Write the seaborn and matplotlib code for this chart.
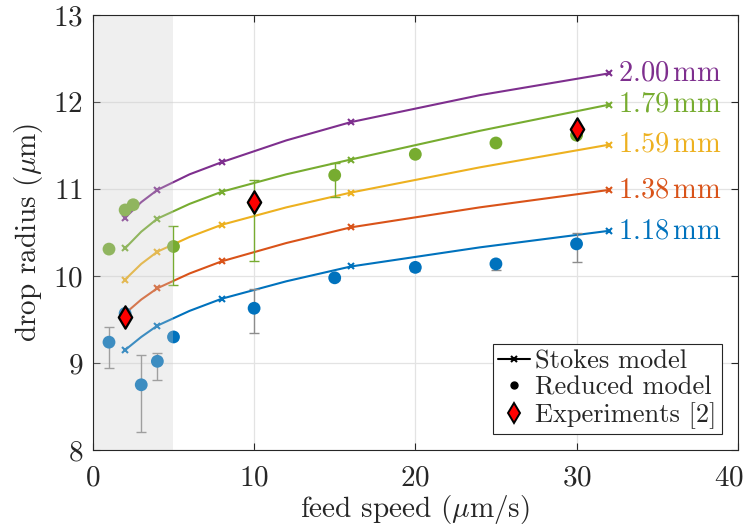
import matplotlib
matplotlib.use('Agg')
import matplotlib.pyplot as plt
import matplotlib.transforms as mtransforms
import numpy as np
import pandas as pd
import seaborn as sb
from matplotlib.lines import Line2D

# Stokes model curves, markers only at 2, 4, 8, 16, 32
stokes_x = [2, 3, 4, 6, 8, 12, 16, 24, 32]
stokes_marks = [0, 2, 4, 6, 8]
stokes_y = {
    '2.00': [10.67, 10.85, 10.99, 11.17, 11.31, 11.56, 11.77, 12.08, 12.33],
    '1.79': [10.32, 10.51, 10.66, 10.83, 10.97, 11.17, 11.34, 11.67, 11.97],
    '1.59': [9.96, 10.14, 10.28, 10.45, 10.59, 10.79, 10.96, 11.25, 11.51],
    '1.38': [9.57, 9.73, 9.86, 10.03, 10.17, 10.38, 10.56, 10.79, 10.99],
    '1.18': [9.15, 9.30, 9.43, 9.60, 9.74, 9.94, 10.11, 10.33, 10.52],
}
colors = {
    '2.00': '#7e2f8e',
    '1.79': '#77ac30',
    '1.59': '#edb120',
    '1.38': '#d95319',
    '1.18': '#0072bd',
}

# reduced model, small nozzle (blue)
red_blue_x = [1, 2, 3, 4, 5, 10, 15, 20, 25, 30]
red_blue_y = [9.24, 9.57, 8.75, 9.02, 9.30, 9.63, 9.98, 10.10, 10.14, 10.37]
red_blue_lo = [8.94, 9.55, 8.21, 8.80, 9.28, 9.35, 9.96, 10.06, 10.07, 10.16]
red_blue_hi = [9.41, 9.59, 9.09, 9.11, 9.32, 9.85, 10.00, 10.13, 10.17, 10.49]

# reduced model, big nozzle (green)
red_green_x = [1, 2, 2.5, 5, 10, 15, 20, 25, 30]
red_green_y = [10.31, 10.76, 10.82, 10.34, 10.84, 11.16, 11.40, 11.53, 11.62]
red_green_lo = [10.31, 10.76, 10.82, 9.90, 10.17, 10.91, 11.40, 11.53, 11.62]
red_green_hi = [10.31, 10.76, 10.82, 10.58, 11.10, 11.30, 11.40, 11.53, 11.62]

# experiments [2]
exp_x = [2, 10, 30]
exp_y = [9.53, 10.85, 11.69]


def main():
    sb.set_style('ticks')
    plt.rcParams['font.family'] = ['cmr10', 'DejaVu Serif']
    plt.rcParams['mathtext.fontset'] = 'cm'
    plt.rcParams['axes.formatter.use_mathtext'] = True
    fs = 21        # ticks and axis labels
    fs_lab = 20.5  # curve labels
    fs_leg = 19    # legend

    fig = plt.figure(figsize=(7.49, 5.31), dpi=100)
    ax = fig.add_axes([0.124, 0.1525, 0.861, 0.819])

    for name, ys in stokes_y.items():
        c = colors[name]
        sb.lineplot(x=stokes_x, y=ys, ax=ax, color=c, lw=1.5,
                    marker='x', markersize=4.5, mew=1.5, mec=c, mfc=c,
                    markevery=stokes_marks, estimator=None, sort=False, zorder=2)
        ax.text(32.6, ys[-1], rf'${name}\,\mathrm{{mm}}$', color=c,
                fontsize=fs_lab, va='center', ha='left')

    ax.errorbar(red_blue_x, red_blue_y,
                yerr=[np.subtract(red_blue_y, red_blue_lo), np.subtract(red_blue_hi, red_blue_y)],
                fmt='none', ecolor='#8c8c8c', elinewidth=1, capsize=3.5, zorder=2.1)
    ax.errorbar(red_green_x, red_green_y,
                yerr=[np.subtract(red_green_y, red_green_lo), np.subtract(red_green_hi, red_green_y)],
                fmt='none', ecolor=colors['1.79'], elinewidth=1, capsize=3.5, zorder=2.1)

    sb.scatterplot(x=red_blue_x, y=red_blue_y, ax=ax, color=colors['1.18'], s=85,
                   edgecolor='none', zorder=2.2)
    sb.scatterplot(x=red_green_x, y=red_green_y, ax=ax, color=colors['1.79'], s=85,
                   edgecolor='none', zorder=2.2)

    ax.axvspan(0, 5, color='#cccccc', alpha=0.3, lw=0, zorder=2.5)

    sb.scatterplot(x=exp_x, y=exp_y, ax=ax, marker='d', color='red', s=130,
                   edgecolor='black', linewidth=1.6, zorder=4)

    ax.set_xlim(0, 40)
    ax.set_ylim(8, 13)
    ax.set_xticks([0, 10, 20, 30, 40])
    ax.set_yticks([8, 9, 10, 11, 12, 13])
    ax.grid(True, color='#e3e3e3', lw=0.9, zorder=0)
    ax.set_axisbelow(True)
    ax.tick_params(direction='in', top=True, right=True, labelsize=fs, length=5,
                   width=0.8, color='#262626')
    ax.tick_params(axis='x', pad=11)
    ax.tick_params(axis='y', pad=7)
    last = ax.get_xticklabels()[-1]
    last.set_transform(last.get_transform() +
                       mtransforms.ScaledTranslation(-0.09, 0, fig.dpi_scale_trans))
    for sp in ax.spines.values():
        sp.set_color('#262626')
        sp.set_linewidth(0.8)
        sp.set_visible(True)

    ax.set_xlabel(r'feed speed ($\mu$m/s)', fontsize=fs, labelpad=1)
    ax.set_ylabel(r'drop radius ($\mu$m)', fontsize=fs, labelpad=6)

    handles = [
        Line2D([], [], color='black', lw=1.5, marker='x', markersize=4.5, mew=1.5),
        Line2D([], [], color='black', lw=0, marker='o', markersize=5),
        Line2D([], [], color='black', lw=0, marker='d', markersize=10,
               markerfacecolor='red', mew=1.4),
    ]
    leg = ax.legend(handles, ['Stokes model', 'Reduced model', 'Experiments [2]'],
                    loc='lower right', fontsize=fs_leg, frameon=True, fancybox=False,
                    framealpha=1, edgecolor='#262626', handlelength=1.2,
                    handletextpad=0.2, borderpad=0.2, labelspacing=0.1,
                    borderaxespad=0.6)
    leg.get_frame().set_linewidth(0.8)

    fig.savefig('out.png', dpi=100)
    return 0


main()
